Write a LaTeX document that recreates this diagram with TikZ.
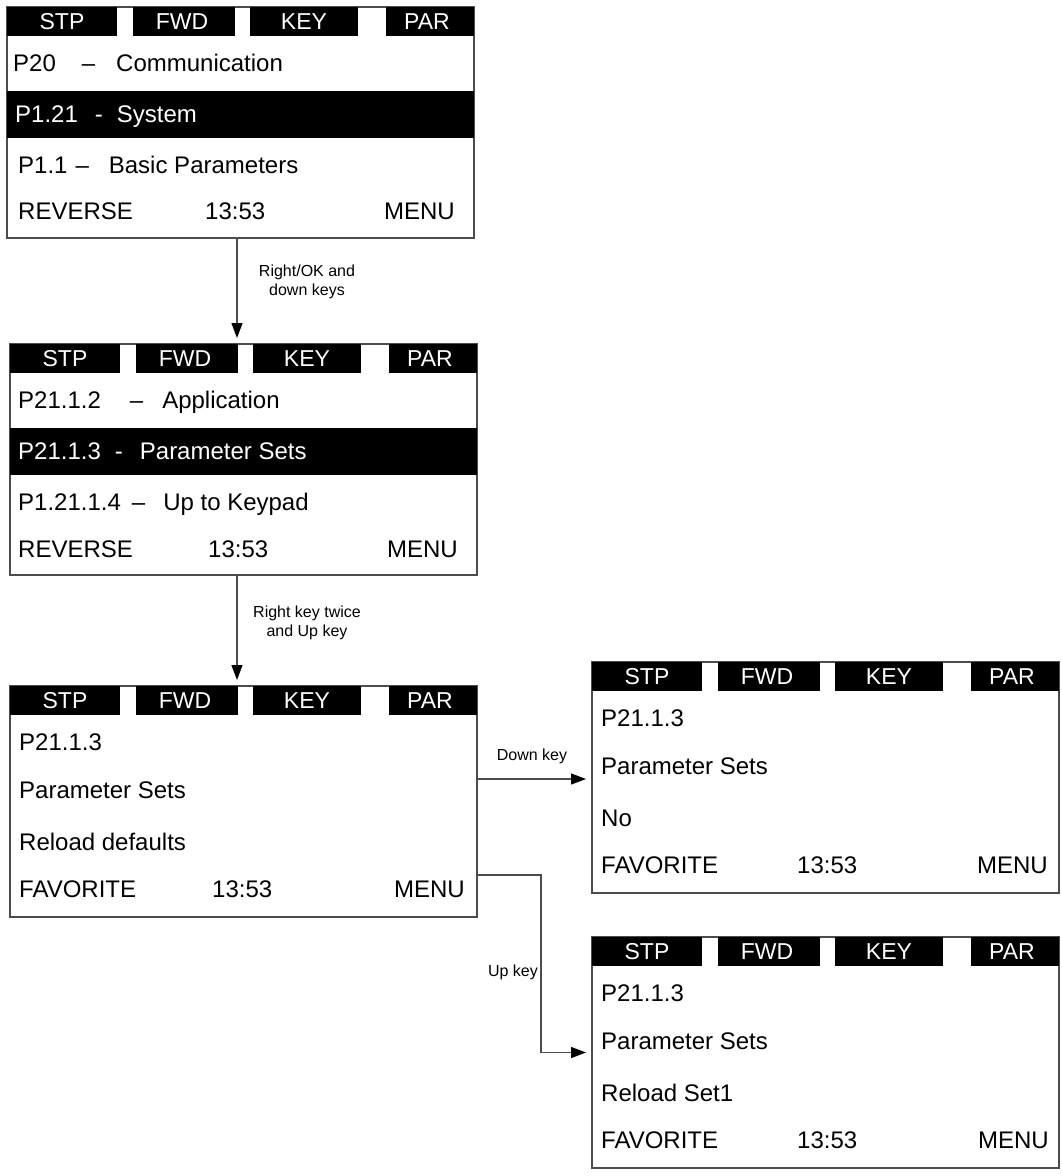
\documentclass[tikz,border=0pt]{standalone}
\usepackage{fontspec}
\setmainfont{Liberation Sans}
\usetikzlibrary{arrows.meta}
\tikzset{
  frame/.style={draw=black!70, line width=1.2pt, minimum width=467pt, minimum height=231pt, inner sep=0pt, outer sep=0pt},
  hdr/.style={text=white, font=\fontsize{23}{27}\selectfont, inner sep=0pt},
  txt/.style={font=\fontsize{24}{28}\selectfont, inner sep=0pt, anchor=base west},
  txtr/.style={txt, anchor=base east},
  inv/.style={txt, text=white},
  lbl/.style={font=\fontsize{16}{19.5}\selectfont, align=center, inner sep=0pt},
  arr/.style={draw=black!70, line width=1.2pt, -{Triangle[length=15pt,width=11pt,color=black]}, shorten >=6pt},
}
\newcommand\lcdscreen[3]{%
  \node[frame, anchor=north west] (#1) at (#2,#3) {};
  \fill (#2,#3) rectangle (#2+110,#3+29);
  \fill (#2+126,#3) rectangle (#2+228,#3+29);
  \fill (#2+243,#3) rectangle (#2+351,#3+29);
  \fill (#2+379,#3) rectangle (#2+467,#3+29);
  \node[hdr] (#1stp) at (#2+55,#3+15) {STP};
  \node[hdr] (#1fwd) at (#2+175,#3+15) {FWD};
  \node[hdr] (#1key) at (#2+297,#3+15) {KEY};
  \node[hdr] (#1par) at (#2+420,#3+15) {PAR};
}
\begin{document}
\begin{tikzpicture}[x=1pt,y=-1pt]
\useasboundingbox (0,0) rectangle (1062,1176);

% Screen 1
\lcdscreen{s1}{7}{7}
\fill (7,91) rectangle (474,138);
\node[txt] (s1r1) at (13,71.6) {P20\hspace{26pt}–\hspace{21pt}Communication};
\node[inv] (s1r2) at (15,122.6) {P1.21\hspace{17pt}-\hspace{14pt}System};
\node[txt] (s1r3) at (18,173.6) {P1.1\hspace{8pt}–\hspace{20pt}Basic Parameters};
\node[txt] (s1b1) at (18,219.6) {REVERSE};
\node[txt] (s1b2) at (205,219.6) {13:53};
\node[txtr] (s1b3) at (455,219.6) {MENU};

% Screen 2
\lcdscreen{s2}{10}{344}
\fill (10,428) rectangle (477,475);
\node[txt] (s2r1) at (18,408.6) {P21.1.2\hspace{29pt}–\hspace{19pt}Application};
\node[inv] (s2r2) at (18,459.6) {P21.1.3\hspace{14pt}-\hspace{17pt}Parameter Sets};
\node[txt] (s2r3) at (18,510.6) {P1.21.1.4\hspace{11pt}–\hspace{18pt}Up to Keypad};
\node[txt] (s2b1) at (18,557.6) {REVERSE};
\node[txt] (s2b2) at (208,557.6) {13:53};
\node[txtr] (s2b3) at (458,557.6) {MENU};

% Screen 3
\lcdscreen{s3}{10}{686}
\node[txt] (s3r1) at (19,750.6) {P21.1.3};
\node[txt] (s3r2) at (19,798.6) {Parameter Sets};
\node[txt] (s3r3) at (19,850.6) {Reload defaults};
\node[txt] (s3b1) at (19,897.6) {FAVORITE};
\node[txt] (s3b2) at (212,897.6) {13:53};
\node[txtr] (s3b3) at (465,897.6) {MENU};

% Screen 4
\lcdscreen{s4}{592}{662}
\node[txt] (s4r1) at (601,726.6) {P21.1.3};
\node[txt] (s4r2) at (601,774.6) {Parameter Sets};
\node[txt] (s4r3) at (601,826.6) {No};
\node[txt] (s4b1) at (601,873.6) {FAVORITE};
\node[txt] (s4b2) at (797,873.6) {13:53};
\node[txtr] (s4b3) at (1048,873.6) {MENU};

% Screen 5
\lcdscreen{s5}{592}{937}
\node[txt] (s5r1) at (601,1001.6) {P21.1.3};
\node[txt] (s5r2) at (601,1049.6) {Parameter Sets};
\node[txt] (s5r3) at (601,1101.6) {Reload Set1};
\node[txt] (s5b1) at (601,1148.6) {FAVORITE};
\node[txt] (s5b2) at (797,1148.6) {13:53};
\node[txtr] (s5b3) at (1049,1148.6) {MENU};

% Connectors
\coordinate (a1) at ([xshift=-3.5pt]s1.south);
\draw[arr] (a1) -- (a1 |- s2.north);
\node[lbl] (l1) at (307,282) {Right/OK and\\down keys};

\coordinate (a2) at ([xshift=-6.5pt]s2.south);
\draw[arr] (a2) -- (a2 |- s3.north);
\node[lbl] (l2) at (307,623) {Right key twice\\and Up key};

\coordinate (d1) at ([yshift=22.5pt]s3.east);
\draw[arr] (d1) -- (d1 -| s4.west);
\node[lbl] (l3) at (532,756) {Down key};

\coordinate (u1) at ([yshift=-73.5pt]s3.east);
\draw[arr] (u1) -- ++(64,0) |- (s5.west);
\node[lbl] (l4) at (513,972) {Up key};
\end{tikzpicture}
\end{document}
